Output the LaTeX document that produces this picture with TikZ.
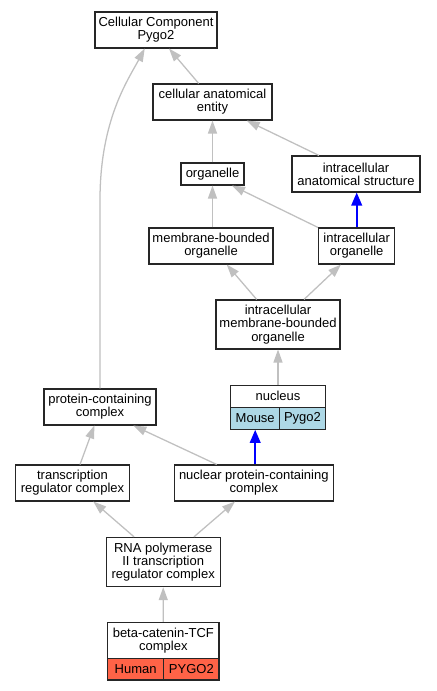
\documentclass[tikz,border=0pt]{standalone}
\usepackage{fontspec}
\setmainfont{Liberation Sans}
\usetikzlibrary{arrows.meta,calc}
\definecolor{edgegray}{HTML}{C0C0C0}
\definecolor{mouseblue}{HTML}{ADD8E6}
\definecolor{humanred}{HTML}{FF6347}
\begin{document}
\begin{tikzpicture}[x=0.75pt,y=-0.75pt,
  box/.style={draw=black!85,line width=0.8pt,fill=white,inner sep=0pt,align=center,
    font=\fontsize{9.75pt}{9.9pt}\selectfont},
  gedge/.style={draw=edgegray,line width=0.95pt,-{Triangle[length=9.75pt,width=6.75pt]}},
  bedge/.style={draw=blue,line width=1.3pt,-{Triangle[length=9.75pt,width=8pt]}}]
\useasboundingbox (0,0) rectangle (436,691);
\fill[white] (0,0) rectangle (436,691);
% nodes
\node[box,minimum width=91.5pt,minimum height=27pt] (cc) at (156,30) {Cellular Component\\Pygo2};
\node[box,minimum width=89.25pt,minimum height=27pt] (cae) at (212.5,102) {cellular anatomical\\entity};
\node[box,minimum width=47.25pt,minimum height=16.5pt] (org) at (212.5,174) {organelle};
\node[box,minimum width=96pt,minimum height=27pt] (ias) at (356,174) {intracellular\\anatomical structure};
\node[box,minimum width=93pt,minimum height=27pt] (mbo) at (211,246) {membrane-bounded\\organelle};
\node[box,minimum width=57pt,minimum height=27pt] (io) at (356.7,246) {intracellular\\organelle};
\node[box,minimum width=93pt,minimum height=36.75pt] (imbo) at (278,324.5) {intracellular\\membrane-bounded\\organelle};
\node[box,minimum width=84pt,minimum height=27pt] (pcc) at (100,407) {protein-containing\\complex};
\node[box,minimum width=70.95pt,minimum height=16.7pt] (nuc) at (278,396.2) {nucleus};
\node[box,fill=mouseblue,minimum width=36.75pt,minimum height=16.5pt] (nucm) at (255.2,418.3) {Mouse};
\node[box,fill=mouseblue,minimum width=34.2pt,minimum height=16.5pt] (nucp) at (302.5,418.3) {Pygo2};
\node[box,minimum width=85.2pt,minimum height=27pt] (trc) at (72.5,483) {transcription\\regulator complex};
\node[box,minimum width=119.25pt,minimum height=27pt] (npc) at (253.8,483) {nuclear protein-containing\\complex};
\node[box,minimum width=85.3pt,minimum height=37pt] (rna) at (163.2,562) {RNA polymerase\\II transcription\\regulator complex};
\node[box,minimum width=83.5pt,minimum height=27.3pt] (btcf) at (163.35,640.5) {beta-catenin-TCF\\complex};
\node[box,fill=humanred,minimum width=42pt,minimum height=16pt] (hum) at (135.7,669.35) {Human};
\node[box,fill=humanred,minimum width=41.5pt,minimum height=16pt] (pyg) at (191.35,669.35) {PYGO2};
% edges
\draw[gedge] ($(cae.north)+(-13.8,0)$) -- ($(cc.south)+(13,0)$);
\draw[gedge] (pcc.north) -- (100,200) .. controls (100,120) and (128,80) .. ($(cc.south)+(-11.3,0)$);
\draw[gedge] (org.north) -- (cae.south);
\draw[gedge] ($(ias.north)+(-37,0)$) -- ($(cae.south)+(34.2,0)$);
\draw[gedge] (mbo.north -| org.south) -- (org.south);
\draw[gedge] ($(io.north)+(-38.7,0)$) -- ($(org.south)+(19.5,0)$);
\draw[bedge] (io.north) -- (io.north |- ias.south);
\draw[gedge] ($(imbo.north)+(-21.3,0)$) -- ($(mbo.south)+(15.7,0)$);
\draw[gedge] ($(imbo.north)+(26,0)$) -- ($(io.south)+(-15.7,0)$);
\draw[gedge] (nuc.north) -- (imbo.south);
\draw[gedge] ($(trc.north)+(7.5,0)$) -- ($(pcc.south)+(-5.7,0)$);
\draw[gedge] ($(npc.north)+(-37.1,0)$) -- ($(pcc.south)+(33.3,0)$);
\draw[bedge] (npc.north -| nucm.south) -- (nucm.south);
\draw[gedge] ($(rna.north)+(-29.2,0)$) -- ($(trc.south)+(20.8,0)$);
\draw[gedge] ($(rna.north)+(30.8,0)$) -- ($(npc.south)+(-18.8,0)$);
\draw[gedge] (btcf.north) -- (rna.south);
\end{tikzpicture}
\end{document}
